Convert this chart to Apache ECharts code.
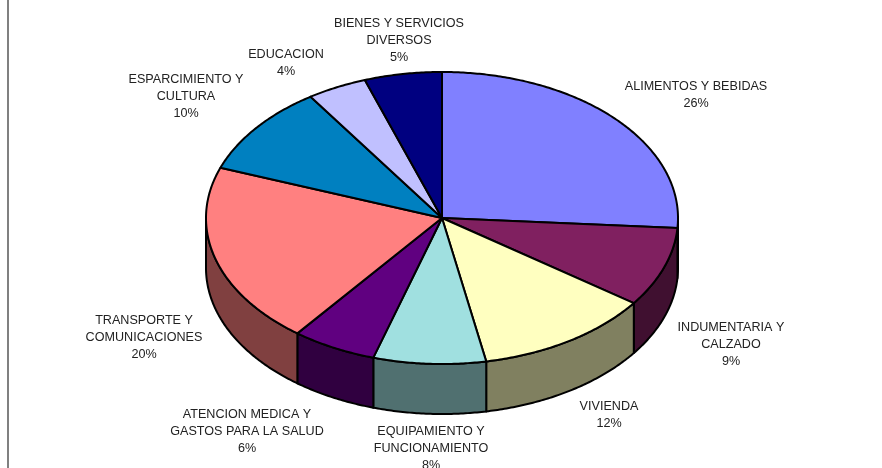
<!DOCTYPE html>
<html>
<head>
<meta charset="utf-8">
<style>
  html, body { margin: 0; padding: 0; background: #fff; }
  #chart { width: 882px; height: 468px; }
</style>
</head>
<body>
<div id="chart"></div>
<script src="https://cdn.jsdelivr.net/npm/echarts@6/dist/echarts.min.js"></script>
<script>
// valores (las etiquetas los redondean)
const categories = [
  'ALIMENTOS Y BEBIDAS',
  'INDUMENTARIA Y\nCALZADO',
  'VIVIENDA',
  'EQUIPAMIENTO Y\nFUNCIONAMIENTO',
  'ATENCION MEDICA Y\nGASTOS PARA LA SALUD',
  'TRANSPORTE Y\nCOMUNICACIONES',
  'ESPARCIMIENTO Y\nCULTURA',
  'EDUCACION',
  'BIENES Y SERVICIOS\nDIVERSOS'
]
const values = [26.1, 8.8, 12.1, 7.7, 5.8, 20.1, 10.0, 4.1, 5.3]
const topColors = ['#8080ff', '#802060', '#ffffc0', '#a0e0e0', '#600080', '#ff8080', '#0080c0', '#c0c0ff', '#000080']
const sideColors = ['#404080', '#401030', '#808060', '#507070', '#300040', '#804040', '#004060', '#606080', '#000040']

// layout: centro de cada etiqueta y top de la primera linea
const labelX = [696, 731, 609, 431, 247, 144, 186, 286, 399]
const labelY = [78, 319, 398, 423.5, 406, 312, 71, 46, 15]
const lineHeight = 17

const cx = 442, cy = 218, rx = 236, ry = 146, depth = 50
const total = values.reduce((a, b) => a + b, 0)

const rows = []
let acc = 0
values.forEach((v, i) => {
  rows.push([acc, acc + v, i])
  acc += v
})

// angulo desde arriba, sentido horario
const toAngle = v => echarts.number.linearMap(v, [0, total], [0, Math.PI * 2])
const rimPoint = (a, dy) => [cx + rx * Math.sin(a), cy - ry * Math.cos(a) + dy]

function arcPoints(a0, a1, dy) {
  const n = Math.max(2, Math.ceil((a1 - a0) / 0.01))
  const pts = []
  for (let k = 0; k <= n; k++) {
    pts.push(rimPoint(a0 + (a1 - a0) * k / n, dy))
  }
  return pts
}

const chart = echarts.init(document.getElementById('chart'))

chart.setOption({
  animation: false,
  backgroundColor: '#fff',
  graphic: [{
    type: 'rect',
    shape: { x: 7, y: 0, width: 2, height: 468 },
    style: { fill: '#808080' }
  }],
  series: [
    {
      // pared lateral, solo la mitad delantera
      type: 'custom',
      coordinateSystem: 'none',
      silent: true,
      data: rows,
      renderItem(params, api) {
        const a0 = Math.max(toAngle(api.value(0)), Math.PI / 2)
        const a1 = Math.min(toAngle(api.value(1)), Math.PI * 1.5)
        if (a1 <= a0) return null
        const pts = arcPoints(a0, a1, 0).concat(arcPoints(a0, a1, depth).reverse())
        return {
          type: 'polygon',
          shape: { points: pts },
          style: { fill: sideColors[api.value(2)], stroke: '#000', lineWidth: 2, lineJoin: 'round' }
        }
      }
    },
    {
      // tapa
      type: 'custom',
      coordinateSystem: 'none',
      silent: true,
      data: rows,
      renderItem(params, api) {
        const pts = [[cx, cy]].concat(arcPoints(toAngle(api.value(0)), toAngle(api.value(1)), 0))
        return {
          type: 'polygon',
          shape: { points: pts },
          style: { fill: topColors[api.value(2)], stroke: '#000', lineWidth: 2, lineJoin: 'round' }
        }
      }
    },
    {
      // etiquetas
      type: 'custom',
      coordinateSystem: 'none',
      silent: true,
      data: rows,
      renderItem(params, api) {
        const i = api.value(2)
        return {
          type: 'text',
          style: {
            text: categories[i] + '\n' + Math.round(values[i]) + '%',
            x: labelX[i],
            y: labelY[i],
            align: 'center',
            verticalAlign: 'top',
            lineHeight: lineHeight,
            fontFamily: '"Liberation Sans", Arial, sans-serif',
            fontSize: 12.6,
            fill: '#222'
          }
        }
      }
    }
  ]
})
</script>
</body>
</html>
